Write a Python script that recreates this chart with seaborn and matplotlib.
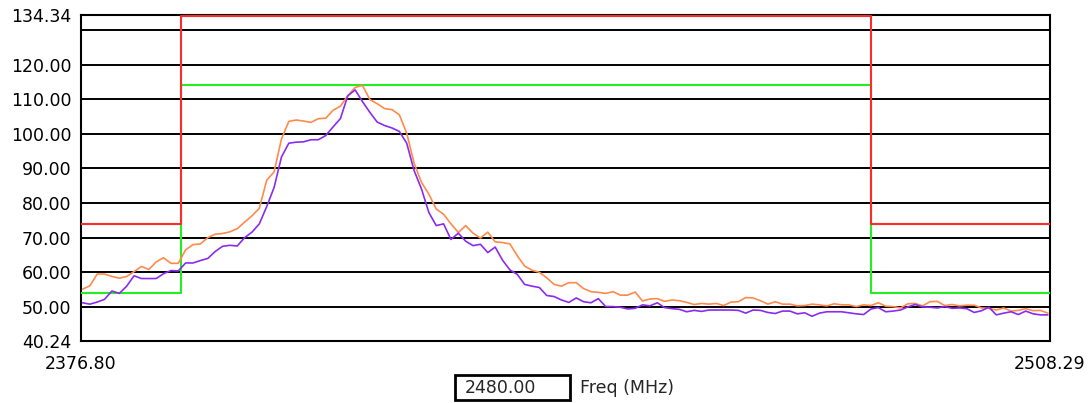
import numpy as np
import pandas as pd
import matplotlib
matplotlib.use("Agg")
import matplotlib.pyplot as plt
import seaborn as sns
from matplotlib.patches import Rectangle

# Axis range (MHz / dBuV)
x_min, x_max = 2376.80, 2508.29
y_min, y_max = 40.24, 134.34

# Limit masks (step lines)
mask_freq = [2376.80, 2390.4, 2390.4, 2484.0, 2484.0, 2508.29]
red_limit = [74.0, 74.0, 134.0, 134.0, 74.0, 74.0]
green_limit = [54.0, 54.0, 114.0, 114.0, 54.0, 54.0]

# Trace sample frequencies (1 MHz steps)
freq = np.arange(2377, 2509)

orange_trace = [
    55.1, 56.1, 59.5, 59.5, 58.8, 58.3, 58.8, 60.2, 61.7, 60.8,
    63.0, 64.2, 62.6, 62.6, 66.5, 68.0, 68.2, 70.0, 71.0, 71.2,
    71.7, 72.6, 74.5, 76.3, 78.5, 86.6, 89.0, 98.5, 103.6, 104.0,
    103.7, 103.3, 104.4, 104.5, 106.8, 108.0, 111.0, 113.4, 114.0, 109.9,
    108.7, 107.3, 107.0, 105.5, 100.2, 91.5, 86.0, 82.6, 78.3, 76.8,
    74.0, 71.5, 73.5, 71.3, 69.9, 71.6, 68.8, 68.6, 68.2, 64.8,
    61.8, 60.6, 60.0, 58.4, 56.5, 56.0, 57.0, 57.0, 55.3, 54.4,
    54.2, 53.9, 54.4, 53.4, 53.4, 54.3, 51.7, 52.3, 52.4, 51.6,
    52.0, 51.8, 51.3, 50.7, 51.0, 50.8, 51.0, 50.4, 51.4, 51.5,
    52.7, 52.6, 51.8, 50.8, 51.5, 50.8, 50.8, 50.3, 50.4, 50.8,
    50.6, 50.3, 50.9, 50.6, 50.6, 50.1, 50.6, 50.4, 51.2, 50.2,
    50.1, 49.7, 50.9, 51.0, 50.3, 51.5, 51.6, 50.4, 50.7, 50.3,
    50.5, 50.5, 49.7, 49.6, 49.1, 49.7, 48.8, 49.0, 49.5, 48.9,
    49.0, 48.2,
]

purple_trace = [
    51.2, 50.8, 51.4, 52.2, 54.6, 53.9, 56.0, 59.0, 58.2, 58.2,
    58.2, 59.6, 60.5, 60.4, 62.7, 62.7, 63.4, 64.0, 66.0, 67.5,
    67.8, 67.6, 70.0, 71.6, 74.0, 79.0, 84.5, 93.3, 97.3, 97.6,
    97.7, 98.3, 98.3, 99.5, 102.0, 104.4, 111.0, 112.7, 109.3, 106.2,
    103.4, 102.4, 101.7, 100.7, 97.3, 89.4, 84.1, 77.3, 73.5, 74.0,
    69.5, 71.3, 69.0, 67.7, 68.1, 65.7, 67.3, 63.5, 60.7, 59.4,
    56.5, 56.0, 55.6, 53.3, 53.0, 52.0, 51.3, 52.6, 51.5, 51.2,
    52.4, 50.1, 50.1, 49.9, 49.4, 49.6, 50.6, 50.3, 51.2, 49.8,
    49.5, 49.3, 48.6, 49.0, 48.7, 49.1, 49.1, 49.1, 49.1, 49.0,
    48.2, 49.1, 49.0, 48.4, 48.1, 48.8, 48.8, 48.0, 48.3, 47.3,
    48.2, 48.6, 48.6, 48.6, 48.3, 48.0, 47.8, 49.4, 49.8, 48.6,
    48.8, 49.1, 50.0, 50.7, 50.0, 49.9, 49.7, 50.1, 49.6, 49.7,
    49.5, 48.4, 48.9, 49.9, 47.7, 48.2, 48.6, 47.8, 48.8, 48.0,
    47.7, 47.7,
]

grid_levels = [50, 60, 70, 80, 90, 100, 110, 120, 130]
ytick_values = [40.24, 50, 60, 70, 80, 90, 100, 110, 120, 134.34]
ytick_labels = ["40.24", "50.00", "60.00", "70.00", "80.00", "90.00",
                "100.00", "110.00", "120.00", "134.34"]
xtick_values = [2376.80, 2508.29]
xtick_labels = ["2376.80", "2508.29"]
cursor_value = "2480.00"
x_label = "Freq (MHz)"

df = pd.DataFrame({"freq": freq, "orange": orange_trace, "purple": purple_trace})

sns.set_style("white")
plt.rcParams["font.family"] = ["DejaVu Sans"]

fig = plt.figure(figsize=(10.91, 4.03), dpi=100)
ax = fig.add_axes([81 / 1091, 1 - 340.7 / 403, 969 / 1091, 325.7 / 403])

for lvl in grid_levels:
    ax.axhline(lvl, color="black", lw=1.4, zorder=1)

# green mask under the red one
ax.plot(mask_freq, green_limit, color="#22ee22", lw=1.5, zorder=3)
ax.plot(mask_freq, red_limit, color="#ff2a2a", lw=1.5, zorder=3.5)

sns.lineplot(data=df, x="freq", y="orange", color="#ff8a4c", lw=1.2, ax=ax, zorder=4)
sns.lineplot(data=df, x="freq", y="purple", color="#8a2cf0", lw=1.2, ax=ax, zorder=5)

ax.set_xlim(x_min, x_max)
ax.set_ylim(y_min, y_max)
ax.set_yticks(ytick_values)
ax.set_yticklabels(ytick_labels)
ax.set_xticks(xtick_values)
ax.set_xticklabels(xtick_labels)
ax.tick_params(axis="both", direction="out", length=5, width=1.3, colors="black",
               labelsize=12.5, pad=2)
ax.tick_params(axis="x", length=7, pad=3)
ax.set_xlabel("")
ax.set_ylabel("")
for side in ["left", "right", "top", "bottom"]:
    ax.spines[side].set_visible(True)
    ax.spines[side].set_color("black")
    ax.spines[side].set_linewidth(1.5)

# cursor readout box and axis label
fig.patches.append(Rectangle((455 / 1091, 1 - 400 / 403), 115 / 1091, 25 / 403,
                             transform=fig.transFigure, facecolor="white",
                             edgecolor="black", lw=2))
fig.text(465 / 1091, 1 - 388 / 403, cursor_value, fontsize=12.5, va="center", ha="left")
fig.text(580 / 1091, 1 - 388 / 403, x_label, fontsize=12.5, va="center", ha="left")

fig.savefig("out.png", dpi=100)
